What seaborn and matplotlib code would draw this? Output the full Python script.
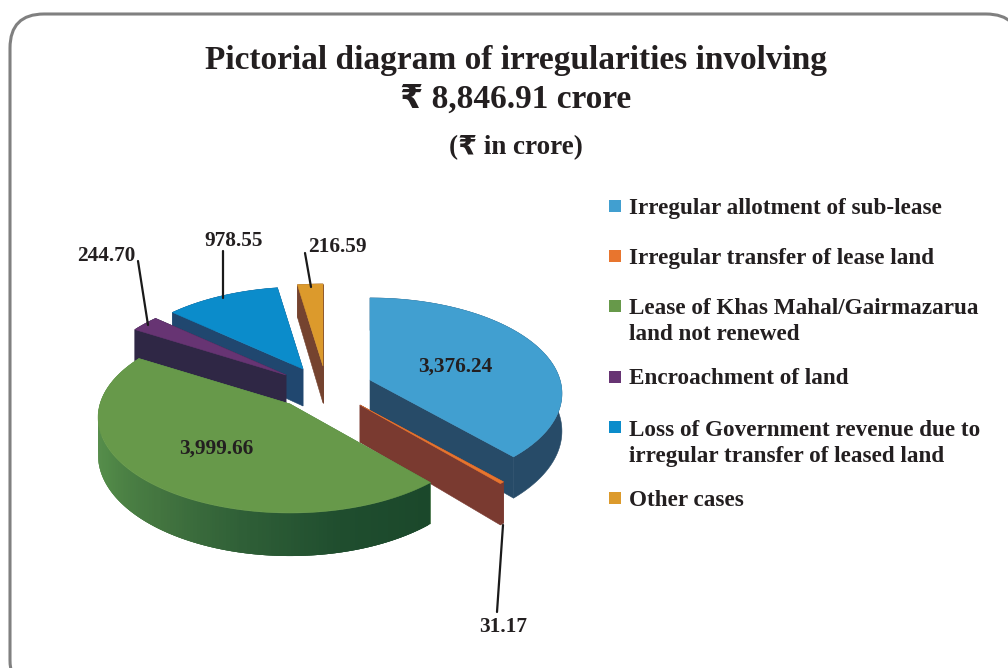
import numpy as np
import matplotlib
matplotlib.use('Agg')
import matplotlib.pyplot as plt
from matplotlib.patches import FancyBboxPatch, Rectangle
import seaborn as sns

# данные
categories = ['Irregular allotment of sub-lease',
              'Irregular transfer of lease land',
              'Lease of Khas Mahal/Gairmazarua\nland not renewed',
              'Encroachment of land',
              'Loss of Government revenue due to\nirregular transfer of leased land',
              'Other cases']
values = [3376.24, 31.17, 3999.66, 244.70, 978.55, 216.59]
top_colors = ['#419FD0', '#E8752E', '#67994A', '#673473', '#0B8CCB', '#DC9A2C']
side_colors = ['#274B68', '#7A3A30', '#4F8446', '#2F2745', '#20476F', '#75432F']

# раскладка (пиксели картинки)
apexes = [(370, 380), (360, 405), (290, 404), (286, 375), (303, 369), (323, 366)]
draw_order = [5, 4, 3, 0, 1, 2]
label_xy = [(455, 367), (503, 627), (216, 449), (106, 256), (234, 241), (337, 247)]
leaders = {1: [(503, 525), (497, 612)], 3: [(138, 261), (148, 325)],
           4: [(223, 251), (223, 298)], 5: [(305, 253), (311, 287)]}
legend_y = [206, 256, 306, 377, 427, 498]
legend_base = [214, 264, 340, 384, 462, 506]
RX, RY, PERSP, DEPTH = 190, 93.6, 0.141, 37

sns.set_theme(style='white')
plt.rcParams['font.family'] = ['Liberation Serif', 'DejaVu Sans']
plt.rcParams['font.weight'] = 'bold'
TXT = '#231F20'


def project(theta, apex, r=1.0, drop=0.0):
    t = np.radians(theta)
    x, y = r * np.sin(t), r * np.cos(t)
    w = 1 + PERSP * y
    return apex[0] + RX * x / w, apex[1] - RY * y / w + drop * DEPTH / w


def poly(ax, pts, color, lw=0.4):
    xs, ys = zip(*pts)
    ax.fill(xs, ys, facecolor=color, edgecolor=color, linewidth=lw)


fig = plt.figure(figsize=(10.08, 6.68), dpi=100)
ax = fig.add_axes([0, 0, 1, 1])
ax.set_xlim(0, 1008)
ax.set_ylim(668, 0)
ax.axis('off')

ax.add_patch(FancyBboxPatch((10, 14), 1010, 680, boxstyle='round,pad=0,rounding_size=34',
                            facecolor='white', edgecolor='#808080', linewidth=2.2))

edges = np.concatenate([[0], np.cumsum(values)]) / np.sum(values) * 360
green_side = sns.blend_palette(['#1B482B', '#1F4D2E', '#2F5F37', '#447640', '#528A48', '#5C9050'], 140)

for i in draw_order:
    a0, a1 = edges[i], edges[i + 1]
    apex = apexes[i]
    n = max(2, int((a1 - a0) * 2))
    arc = np.linspace(a0, a1, n + 1)
    # боковые срезы
    for a in (a1, a0):
        poly(ax, [project(a, apex, 0), project(a, apex), project(a, apex, 1, 1), project(a, apex, 0, 1)],
             side_colors[i])
    # внешняя стенка
    if i == 2:
        # градиент: полоски внахлёст, чтобы не было швов
        for k in range(n - 1, -1, -1):
            c = green_side[min(int(max(arc[k] - 138, 0) / 132 * 140), 139)]
            stop = arc[min(k + 3, n)]
            pts = [project(a, apex) for a in (arc[k], stop)] + [project(a, apex, 1, 1) for a in (stop, arc[k])]
            xs, ys = zip(*pts)
            ax.fill(xs, ys, facecolor=c, edgecolor='none')
    else:
        poly(ax, [project(a, apex) for a in arc] + [project(a, apex, 1, 1) for a in arc[::-1]], side_colors[i])
    # верх
    poly(ax, [project(0, apex, 0)] + [project(a, apex) for a in arc], top_colors[i])

for i, pts in leaders.items():
    xs, ys = zip(*pts)
    ax.plot(xs, ys, color='#1A1A1A', lw=1.6)

for v, (x, y) in zip(values, label_xy):
    ax.text(x, y, f'{v:,.2f}', ha='center', va='center', fontsize=15.3, color=TXT)

for name, c, ym, yb in zip(categories, top_colors, legend_y, legend_base):
    ax.add_patch(Rectangle((609, ym - 6), 12, 12, facecolor=c, edgecolor='none'))
    ax.text(629, yb, name, ha='left', va='baseline', fontsize=16.7, color=TXT, linespacing=1.3)

ax.text(516, 61, 'Pictorial diagram of irregularities involving', ha='center', va='center',
        fontsize=24, color=TXT)
ax.text(516, 99, '₹ 8,846.91 crore', ha='center', va='center', fontsize=24, color=TXT)
ax.text(516, 148, '(₹ in crore)', ha='center', va='center', fontsize=19.5, color=TXT)

fig.savefig('out.png', dpi=100)
